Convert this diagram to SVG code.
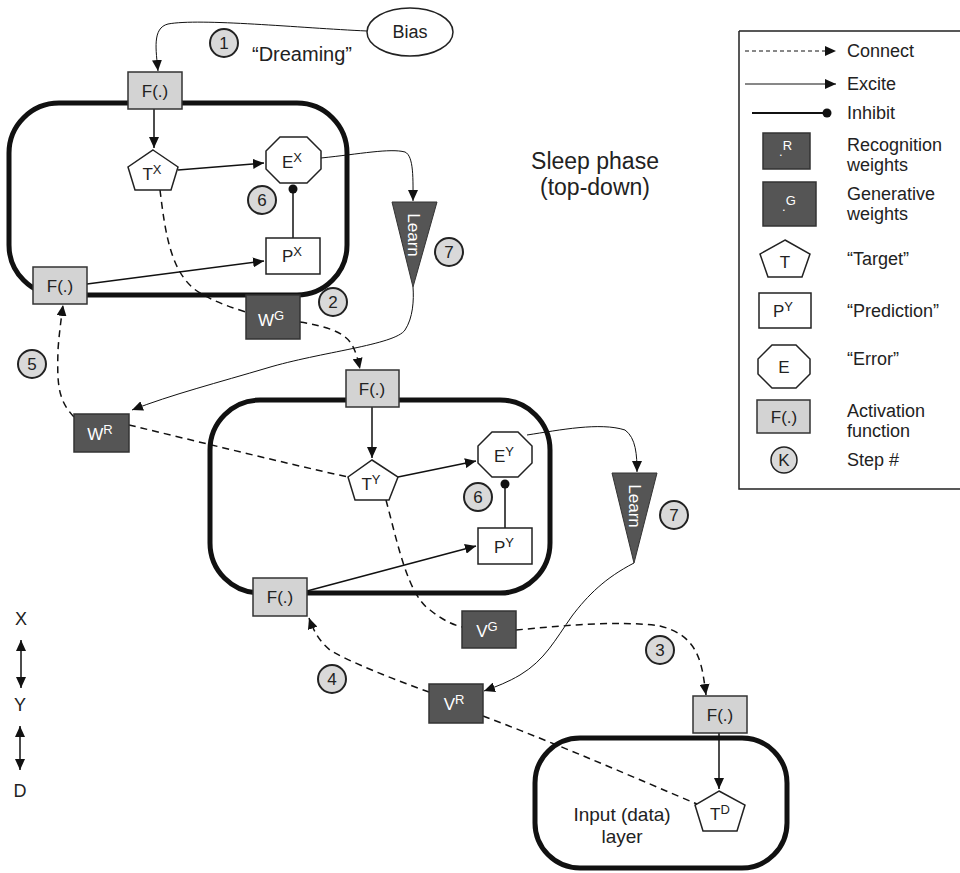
<svg xmlns="http://www.w3.org/2000/svg" width="960" height="873" viewBox="0 0 960 873">
<defs>
<marker id="arr" markerWidth="12" markerHeight="10" refX="11" refY="5" orient="auto" markerUnits="userSpaceOnUse"><path d="M0,0 L11,5 L0,10 Z" fill="#111"/></marker>
<marker id="arrs" markerWidth="12" markerHeight="10" refX="11" refY="5" orient="auto-start-reverse" markerUnits="userSpaceOnUse"><path d="M0,0 L11,5 L0,10 Z" fill="#111"/></marker>
</defs>
<style>
text{font-family:"Liberation Sans",Arial,sans-serif;fill:#222;}
.lbl{font-size:17px;text-anchor:middle;}
.wl{font-size:17px;text-anchor:middle;fill:#fff;}
.sup{font-size:13px;}
.leg{font-size:18px;}
.layer{fill:none;stroke:#111;stroke-width:5;}
.fbox{fill:#d3d3d3;stroke:#333;stroke-width:1.5;}
.wbox{fill:#555;stroke:#333;stroke-width:1.5;}
.shape{fill:#fff;stroke:#222;stroke-width:1.5;}
.step{fill:#d9d9d9;stroke:#222;stroke-width:2;}
.learn{fill:#555;stroke:#333;stroke-width:1;}
.ex{fill:none;stroke:#111;stroke-width:1.5;marker-end:url(#arr);}
.thin{fill:none;stroke:#111;stroke-width:1;marker-end:url(#arr);}
.con{fill:none;stroke:#111;stroke-width:1.5;stroke-dasharray:7,5;}
.cona{fill:none;stroke:#111;stroke-width:1.5;stroke-dasharray:7,5;marker-end:url(#arr);}
.inh{fill:none;stroke:#111;stroke-width:1.5;}
</style>

<!-- layers -->
<g id="layerX"><rect class="layer" x="9" y="103" width="338" height="192" rx="50"/></g>
<g id="layerY"><rect class="layer" x="210" y="400" width="340" height="193" rx="50"/></g>
<g id="layerD"><rect class="layer" x="535" y="738" width="252" height="130" rx="45"/>
<text class="lbl" x="622" y="821" style="font-size:19px">Input (data)</text><text class="lbl" x="622" y="843" style="font-size:19px">layer</text></g>

<g id="connectors">
<path class="thin" d="M367,31 C300,28 200,18 168,24 C152,28 156,50 158,71"/>
<path class="ex" d="M154,109 L154,148"/>
<path class="ex" d="M178,170 L264,163"/>
<path class="ex" d="M87,284 L264,261"/>
<path class="inh" d="M293,238 L293,189"/><circle cx="293" cy="189" r="4.5" fill="#111"/>
<path class="thin" d="M321,158 C360,154 390,148 405,152 C414,156 413,180 413,201"/>
<path class="con" d="M160,190 C165,230 170,275 200,293 C215,302 230,307 246,312"/>
<path class="cona" d="M300,322 C325,326 345,332 352,345 C356,352 358,360 360,369"/>
<path class="thin" d="M413,287 C414,300 413,318 405,330 C395,345 320,352 267,368 C220,382 170,395 132,410"/>
<path class="cona" d="M74,417 C58,400 57,385 58,350 C59,335 61,320 63,305"/>
<path class="con" d="M129,425 C200,442 280,462 348,477"/>
<path class="ex" d="M372,407 L372,458"/>
<path class="ex" d="M398,477 L476,461"/>
<path class="ex" d="M307,591 L476,546"/>
<path class="inh" d="M505,528 L505,484"/><circle cx="505" cy="484" r="4.5" fill="#111"/>
<path class="thin" d="M527,435 C560,430 600,422 625,430 C636,438 637,455 637,472"/>
<path class="con" d="M386,500 C398,545 408,595 430,610 C440,618 450,624 462,627"/>
<path class="thin" d="M634,563 C605,578 588,595 572,616 C555,640 545,660 520,675 C508,682 498,686 484,691"/>
<path class="cona" d="M429,692 C395,680 345,660 330,650 C320,642 314,632 309,618"/>
<path class="cona" d="M516,630 C560,626 620,620 660,626 C700,636 702,665 706,695"/>
<path class="con" d="M483,716 C560,745 640,780 697,804"/>
<path class="ex" d="M719,733 L719,789"/>
</g>

<g id="bias"><ellipse cx="410" cy="32" rx="43" ry="24" class="shape"/><text class="lbl" x="410" y="38" style="font-size:18px">Bias</text></g>
<g id="step1"><circle class="step" cx="224" cy="43" r="14"/><text class="lbl" x="224" y="49">1</text></g>
<g id="dreaming"><text class="lbl" x="302" y="61" style="font-size:20px">“Dreaming”</text></g>
<g id="sleep"><text class="lbl" x="595" y="169" style="font-size:23px">Sleep phase</text><text class="lbl" x="595" y="195" style="font-size:23px">(top-down)</text></g>

<g id="fX1"><rect class="fbox" x="128" y="72" width="54" height="37"/><text class="lbl" x="155" y="97">F(.)</text></g>
<g id="TX"><polygon class="shape" points="153,150 178,167 171,190 135,190 128,167"/><text class="lbl" x="152" y="180">T<tspan class="sup" dy="-6">X</tspan></text></g>
<g id="EX"><polygon class="shape" points="280,137 307,137 321,151 321,169 307,183 280,183 266,169 266,151"/><text class="lbl" x="292" y="168">E<tspan class="sup" dy="-6">X</tspan></text></g>
<g id="step6a"><circle class="step" cx="262" cy="200" r="14"/><text class="lbl" x="262" y="206">6</text></g>
<g id="PX"><rect class="shape" x="266" y="238" width="54" height="36"/><text class="lbl" x="292" y="262">P<tspan class="sup" dy="-6">X</tspan></text></g>
<g id="fX2"><rect class="fbox" x="33" y="267" width="54" height="37"/><text class="lbl" x="60" y="292">F(.)</text></g>
<g id="learn1"><polygon class="learn" points="392,202 437,202 413,287"/><text x="0" y="0" transform="translate(408,235) rotate(90)" style="font-size:17px;text-anchor:middle;fill:#fff">Learn</text></g>
<g id="step7a"><circle class="step" cx="449" cy="252" r="14"/><text class="lbl" x="449" y="258">7</text></g>
<g id="step2"><circle class="step" cx="333" cy="302" r="14"/><text class="lbl" x="333" y="308">2</text></g>
<g id="WG"><rect class="wbox" x="246" y="295" width="54" height="44"/><text class="wl" x="271" y="326">W<tspan class="sup" dy="-6">G</tspan></text></g>
<g id="step5"><circle class="step" cx="32" cy="364" r="14"/><text class="lbl" x="32" y="370">5</text></g>
<g id="WR"><rect class="wbox" x="74" y="414" width="55" height="38"/><text class="wl" x="100" y="440">W<tspan class="sup" dy="-6">R</tspan></text></g>

<g id="fY1"><rect class="fbox" x="346" y="370" width="53" height="37"/><text class="lbl" x="372" y="395">F(.)</text></g>
<g id="TY"><polygon class="shape" points="372,460 398,477 389,500 355,500 348,477"/><text class="lbl" x="371" y="490">T<tspan class="sup" dy="-6">Y</tspan></text></g>
<g id="EY"><polygon class="shape" points="492,432 518,432 532,446 532,463 518,477 492,477 478,463 478,446"/><text class="lbl" x="504" y="462">E<tspan class="sup" dy="-6">Y</tspan></text></g>
<g id="step6b"><circle class="step" cx="478" cy="497" r="14"/><text class="lbl" x="478" y="503">6</text></g>
<g id="PY"><rect class="shape" x="478" y="528" width="54" height="36"/><text class="lbl" x="504" y="553">P<tspan class="sup" dy="-6">Y</tspan></text></g>
<g id="fY2"><rect class="fbox" x="253" y="578" width="54" height="38"/><text class="lbl" x="280" y="603">F(.)</text></g>
<g id="learn2"><polygon class="learn" points="612,473 657,473 634,563"/><text x="0" y="0" transform="translate(629,506) rotate(90)" style="font-size:17px;text-anchor:middle;fill:#fff">Learn</text></g>
<g id="step7b"><circle class="step" cx="674" cy="515" r="14"/><text class="lbl" x="674" y="521">7</text></g>
<g id="VG"><rect class="wbox" x="462" y="611" width="54" height="37"/><text class="wl" x="487" y="637">V<tspan class="sup" dy="-6">G</tspan></text></g>
<g id="step3"><circle class="step" cx="660" cy="650" r="14"/><text class="lbl" x="660" y="656">3</text></g>
<g id="step4"><circle class="step" cx="332" cy="679" r="14"/><text class="lbl" x="332" y="685">4</text></g>
<g id="VR"><rect class="wbox" x="429" y="684" width="54" height="39"/><text class="wl" x="454" y="710">V<tspan class="sup" dy="-6">R</tspan></text></g>
<g id="fD"><rect class="fbox" x="693" y="696" width="54" height="37"/><text class="lbl" x="720" y="721">F(.)</text></g>
<g id="TD"><polygon class="shape" points="719,791 745,805 737,831 703,831 695,805"/><text class="lbl" x="720" y="820">T<tspan class="sup" dy="-6">D</tspan></text></g>

<g id="axis">
<text class="lbl" x="21" y="625" style="font-size:18px">X</text>
<path d="M21,640 L21,688" fill="none" stroke="#111" stroke-width="1.5" marker-start="url(#arrs)" marker-end="url(#arrs)"/>
<text class="lbl" x="20" y="711" style="font-size:18px">Y</text>
<path d="M20,726 L20,770" fill="none" stroke="#111" stroke-width="1.5" marker-start="url(#arrs)" marker-end="url(#arrs)"/>
<text class="lbl" x="20" y="797" style="font-size:18px">D</text>
</g>

<g id="legend">
<path d="M739,31 L962,31 M739,31 L739,489 L962,489" fill="none" stroke="#222" stroke-width="1.5"/>
<path class="cona" d="M745,51 L836,51" style="stroke-width:1;stroke-dasharray:4,3"/>
<text class="leg" x="847" y="57">Connect</text>
<path class="thin" d="M745,84 L836,84"/>
<text class="leg" x="847" y="90">Excite</text>
<path d="M752,113 L827,113" stroke="#111" stroke-width="2"/><circle cx="827" cy="113" r="4.5" fill="#111"/>
<text class="leg" x="847" y="119">Inhibit</text>
<rect class="wbox" x="763" y="133" width="47" height="36"/>
<text x="779" y="156" style="font-size:13px;fill:#fff">.<tspan dy="-6">R</tspan></text>
<text class="leg" x="847" y="151">Recognition</text><text class="leg" x="847" y="171">weights</text>
<rect class="wbox" x="763" y="182" width="53" height="44"/>
<text x="782" y="211" style="font-size:13px;fill:#fff">.<tspan dy="-6">G</tspan></text>
<text class="leg" x="847" y="200">Generative</text><text class="leg" x="847" y="220">weights</text>
<polygon class="shape" points="785,240 810,254 802,277 768,277 760,254"/>
<text class="lbl" x="785" y="268">T</text>
<text class="leg" x="847" y="265">“Target”</text>
<rect class="shape" x="759" y="293" width="52" height="35"/>
<text class="lbl" x="783" y="317">P<tspan class="sup" dy="-6">Y</tspan></text>
<text class="leg" x="847" y="317">“Prediction”</text>
<polygon class="shape" points="772,345 796,345 810,359 810,374 796,388 772,388 758,374 758,359"/>
<text class="lbl" x="784" y="373">E</text>
<text class="leg" x="847" y="365">“Error”</text>
<rect class="fbox" x="757" y="400" width="53" height="33"/>
<text class="lbl" x="784" y="423">F(.)</text>
<text class="leg" x="847" y="417">Activation</text><text class="leg" x="847" y="437">function</text>
<circle class="step" cx="784" cy="460" r="13" style="stroke-width:1.5"/><text class="lbl" x="784" y="466">K</text>
<text class="leg" x="847" y="466">Step #</text>
</g>
</svg>
